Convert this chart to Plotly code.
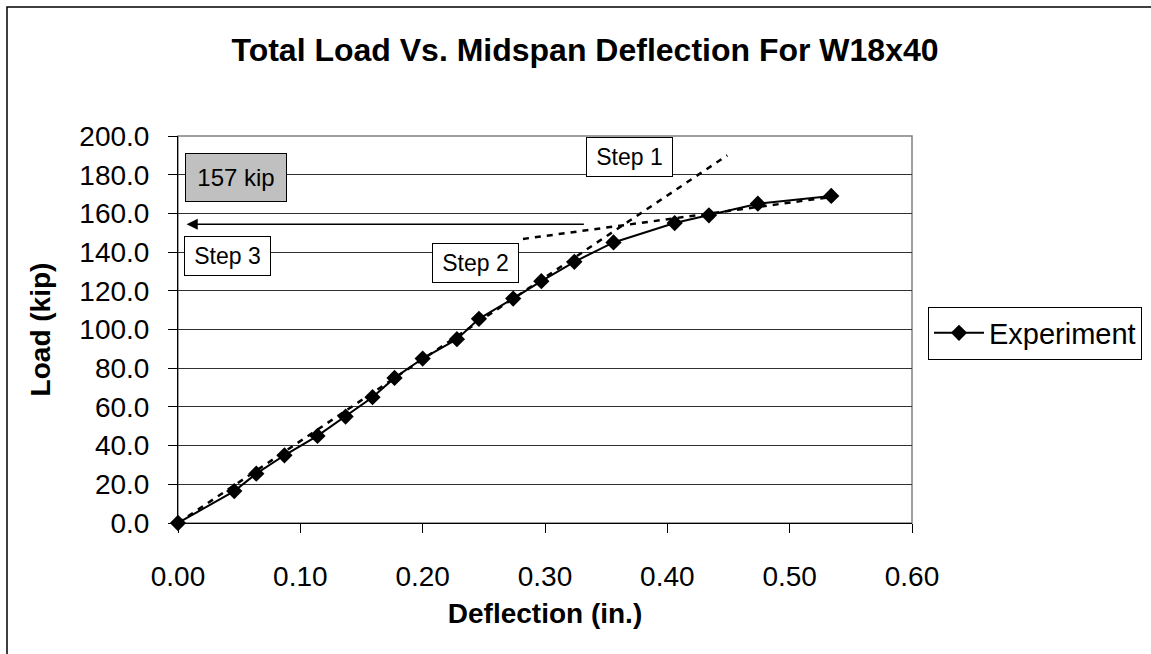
import plotly.graph_objects as go

# ---- data ----
deflection = [0.000, 0.046, 0.064, 0.087, 0.114, 0.137, 0.159, 0.177, 0.200, 0.228,
              0.246, 0.274, 0.297, 0.324, 0.356, 0.406, 0.434, 0.474, 0.534]
load = [0.0, 16.5, 25.5, 35.0, 45.0, 55.0, 65.0, 75.0, 85.0, 95.0,
        105.5, 116.0, 125.0, 135.0, 145.0, 155.0, 159.0, 165.0, 169.0]

# construction lines (Step 1: initial stiffness, Step 2: post-yield tangent)
step1_x = [0.000, 0.449]
step1_y = [0.0, 190.0]
step2_x = [0.282, 0.534]
step2_y = [146.8, 168.5]
# Step 3 arrow (tail -> head)
arrow_x = [0.333, 0.007]
arrow_y = [154.4, 154.4]

x_ticks = [0.0, 0.1, 0.2, 0.3, 0.4, 0.5, 0.6]
y_ticks = [0, 20, 40, 60, 80, 100, 120, 140, 160, 180, 200]

FONT = "Arial, Liberation Sans, sans-serif"

fig = go.Figure()

dash_style = dict(color="black", width=2.5, dash="6px,6px")
fig.add_trace(go.Scatter(x=step1_x, y=step1_y, mode="lines", line=dash_style,
                         showlegend=False, hoverinfo="skip"))
fig.add_trace(go.Scatter(x=step2_x, y=step2_y, mode="lines", line=dash_style,
                         showlegend=False, hoverinfo="skip"))
fig.add_trace(go.Scatter(x=deflection, y=load, mode="lines+markers", name="Experiment",
                         line=dict(color="black", width=2),
                         marker=dict(symbol="diamond", size=12.5, color="black"),
                         cliponaxis=False))

# arrow
fig.add_annotation(x=arrow_x[1], y=arrow_y[1], ax=arrow_x[0], ay=arrow_y[0],
                   xref="x", yref="y", axref="x", ayref="y", text="",
                   showarrow=True, arrowhead=2, arrowsize=1.4, arrowwidth=1.6,
                   arrowcolor="black", standoff=0, startstandoff=0)

def box(text, x, y, w, h, bg, size):
    fig.add_annotation(x=x, y=y, xref="x", yref="y", text=text, showarrow=False,
                       font=dict(family=FONT, size=size, color="black"),
                       bgcolor=bg, bordercolor="black", borderwidth=1, borderpad=1,
                       width=w, height=h, xanchor="center", yanchor="middle")

box("157 kip", 0.0470, 178.6, 98, 45, "#c0c0c0", 24)
box("Step 3", 0.0401, 138.0, 83, 36, "white", 23)
box("Step 2", 0.2428, 134.6, 83, 36, "white", 23)
box("Step 1", 0.3687, 189.3, 83, 36, "white", 23)

# chart-area border and plot-area frame
fig.add_shape(type="rect", xref="paper", yref="paper",
              x0=(7 - 178) / 734, x1=(1170 - 178) / 734,
              y0=(523 - 670) / 387, y1=(523 - 7) / 387,
              line=dict(color="black", width=1.5), fillcolor="rgba(0,0,0,0)", layer="below")
fig.add_shape(type="rect", xref="paper", yref="paper", x0=0, x1=1, y0=0, y1=1,
              line=dict(color="#808080", width=1.5), fillcolor="rgba(0,0,0,0)", layer="below")

fig.update_layout(
    width=1151, height=654,
    margin=dict(l=178, r=239, t=136, b=131, autoexpand=False),
    paper_bgcolor="white", plot_bgcolor="white",
    font=dict(family=FONT, color="black"),
    title=dict(text="<b>Total Load Vs. Midspan Deflection For W18x40</b>",
               x=585 / 1151, y=1 - 50 / 654, xref="container", yref="container",
               xanchor="center", yanchor="middle",
               font=dict(family=FONT, size=32, color="black")),
    xaxis=dict(range=[0, 0.6], tickvals=x_ticks, tickformat=".2f",
               showgrid=False, zeroline=False, showline=True, linecolor="black", linewidth=1,
               ticks="outside", ticklen=9, tickcolor="black", ticklabelstandoff=19,
               tickfont=dict(family=FONT, size=28, color="black"),
               title=dict(text="<b>Deflection (in.)</b>", standoff=12,
                          font=dict(family=FONT, size=28, color="black"))),
    yaxis=dict(range=[0, 200], tickvals=y_ticks, tickformat=".1f",
               showgrid=True, gridcolor="#303030", gridwidth=1,
               zeroline=False, showline=True, linecolor="black", linewidth=1,
               ticks="outside", ticklen=9, tickcolor="black", ticklabelstandoff=13,
               tickfont=dict(family=FONT, size=28, color="black"),
               title=dict(text="<b>Load (kip)</b>", standoff=20,
                          font=dict(family=FONT, size=28, color="black"))),
    legend=dict(x=(928 - 178) / 734, y=(523 - 333) / 387, xanchor="left", yanchor="middle",
                bgcolor="white", bordercolor="black", borderwidth=1, itemwidth=50,
                font=dict(family=FONT, size=29, color="black")),
    showlegend=True,
)

fig.write_html("out.html")
